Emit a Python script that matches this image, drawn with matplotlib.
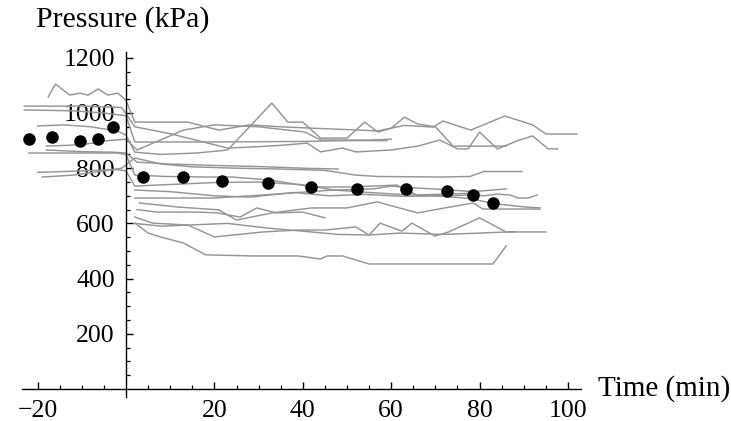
import matplotlib
matplotlib.use("Agg")
import matplotlib.pyplot as plt
from matplotlib.ticker import FixedLocator

plt.rcParams['font.family'] = ['Liberation Serif', 'DejaVu Serif']

# ---- individual traces (time in min, pressure in kPa) ----
tA = [-17.6, -16, -12.7, -10.4, -8.6, -6.3, -4.1, -1.8, 0, 2, 14, 21, 28, 35, 42, 50, 57, 63, 69.5, 71.7, 78, 85.7, 92, 95, 102]
pA = [1058, 1105, 1065, 1072, 1065, 1087, 1065, 1072, 1045, 967, 967, 938, 957, 950, 945, 940, 935, 955, 949, 971, 938, 989, 957, 924, 924]

tB = [-23, -10, -1, 2, 10, 23, 30, 36, 41, 44, 49, 52, 60, 66, 71, 75, 77.4, 80, 84, 89, 92, 95.5, 97.7]
pB = [1025, 1025, 1020, 950, 925, 873, 878, 884, 891, 859, 873, 859, 866, 880, 902, 870, 870, 931, 870, 902, 917, 870, 870]

tC = [-23, -12, -5, 0, 2, 20, 40, 50, 59]
pC = [1011, 1008, 1000, 990, 895, 895, 897, 900, 900]

tD = [-20, -14, -8, -2, 0, 2, 8, 16, 23, 33, 36.6, 40, 44, 50, 54, 57, 60, 63, 66, 70, 74, 86]
pD = [953, 957, 950, 935, 920, 858, 850, 855, 866, 1036, 967, 967, 909, 909, 967, 931, 945, 985, 960, 950, 880, 880]

tE = [-18, -10, -4, 0, 2.5, 13, 20, 30, 40.5, 44, 55, 60]
pE = [880, 885, 900, 905, 866, 938, 957, 950, 931, 902, 902, 905]

tF = [-19, -12, -5, -1, 2, 8, 15, 25, 35, 45, 52, 57, 71, 77.8, 81, 89.6]
pF = [768, 775, 790, 800, 837, 815, 805, 800, 797, 792, 775, 770, 768, 770, 788, 788]

tG = [-18, -10, -3, 0, 2.5, 10, 20, 30, 40, 48]
pG = [866, 860, 858, 855, 822, 815, 810, 806, 800, 797]

tH = [-22, -12, -2, 0, 2, 9, 18, 24, 32.6, 42.3, 51.4, 61.3, 65.8, 80]
pH = [855, 855, 855, 850, 775, 770, 768, 768, 757, 732, 732, 739, 703, 710]

tI = [-20, -10, -2, 0, 2, 7, 11.5, 20, 30, 40, 47, 56, 60, 66, 72.6, 78.5, 86]
pI = [785, 790, 795, 790, 735, 739, 742, 748, 750, 740, 721, 725, 735, 728, 722, 715, 725]

tJ = [2, 10, 20, 28, 38, 46, 54, 63, 72, 78, 81, 84, 86.9, 88.7, 91, 93]
pJ = [721, 715, 700, 695, 712, 700, 705, 698, 700, 703, 700, 706, 703, 692, 692, 703]

tK = [2, 20, 31, 47, 55, 62, 70, 78, 83, 90, 93.7]
pK = [692, 692, 703, 721, 712, 705, 700, 690, 672, 660, 656]

tL = [3, 12, 21, 25, 33, 42, 50, 56.8, 66, 70, 78.5, 80.8, 93.6]
pL = [674, 659, 649, 612, 638, 656, 656, 678, 638, 650, 674, 652, 652]

tM = [2.5, 7, 12.2, 16, 20.6, 25.8, 29.6, 34, 40, 45]
pM = [650, 641, 641, 641, 638, 623, 656, 638, 641, 620]

tN = [2, 6, 14, 20, 31, 39, 45, 52, 55, 57.5, 62.4, 64.7, 69.9, 73, 80, 86, 95]
pN = [623, 601, 594, 551, 569, 576, 576, 587, 558, 601, 572, 601, 554, 569, 620, 569, 569]

tO = [2, 8, 23, 32, 42, 48, 55, 62, 72, 80, 88]
pO = [600, 590, 600, 583, 569, 560, 558, 565, 560, 565, 570]

tP = [2, 5, 8, 13, 18, 29, 39, 44, 45.5, 49, 55, 83, 86]
pP = [601, 565, 550, 529, 486, 482, 482, 471, 482, 482, 453, 453, 518]

traces = [(tA, pA), (tB, pB), (tC, pC), (tD, pD), (tE, pE), (tF, pF), (tG, pG), (tH, pH),
          (tI, pI), (tJ, pJ), (tK, pK), (tL, pL), (tM, pM), (tN, pN), (tO, pO), (tP, pP)]

# ---- mean points ----
mean_t = [-21.9, -16.7, -10.4, -6.3, -2.9, 3.8, 12.9, 21.7, 32.1, 41.9, 52.3, 63.3, 72.6, 78.5, 83.0]
mean_p = [906, 913, 899, 906, 950, 768, 768, 754, 746, 732, 725, 725, 717, 703, 674]

x_major = [-20, 20, 40, 60, 80, 100]
x_minor = [v for v in range(-20, 101, 5) if v not in x_major and v != 0]
y_major = [200, 400, 600, 800, 1000, 1200]
y_minor = [v for v in range(50, 1201, 50) if v not in y_major]

fig = plt.figure(figsize=(7.31, 4.21), dpi=100)
ax = fig.add_axes([0, 0, 1, 1])
ax.set_xlim(-28.51, 136.88)
ax.set_ylim(-115.9, 1409.4)

for t, p in traces:
    ax.plot(t, p, color='#959595', lw=1.05, zorder=2)

ax.plot(mean_t, mean_p, 'o', color='black', markersize=8, zorder=3)

for s in ['top', 'right']:
    ax.spines[s].set_visible(False)
ax.spines['left'].set_position(('data', 0))
ax.spines['bottom'].set_position(('data', 0))
ax.spines['left'].set_bounds(-28, 1220)
ax.spines['bottom'].set_bounds(-23.5, 103)
for s in ['left', 'bottom']:
    ax.spines[s].set_linewidth(1.0)

ax.xaxis.set_major_locator(FixedLocator(x_major))
ax.xaxis.set_minor_locator(FixedLocator(x_minor))
ax.yaxis.set_major_locator(FixedLocator(y_major))
ax.yaxis.set_minor_locator(FixedLocator(y_minor))
ax.set_xticklabels(['\u221220', '20', '40', '60', '80', '100'])
ax.set_yticklabels([str(v) for v in y_major])
ax.tick_params(which='major', direction='in', length=5, width=1.0, labelsize=18.5, pad=8)
ax.tick_params(which='minor', direction='in', length=3, width=0.9)

ax.text(-0.7, 1337, 'Pressure (kPa)', ha='center', va='center', fontsize=21.5)
ax.text(106.8, 0, 'Time (min)', ha='left', va='center', fontsize=21)

fig.savefig('out.png', dpi=100)
